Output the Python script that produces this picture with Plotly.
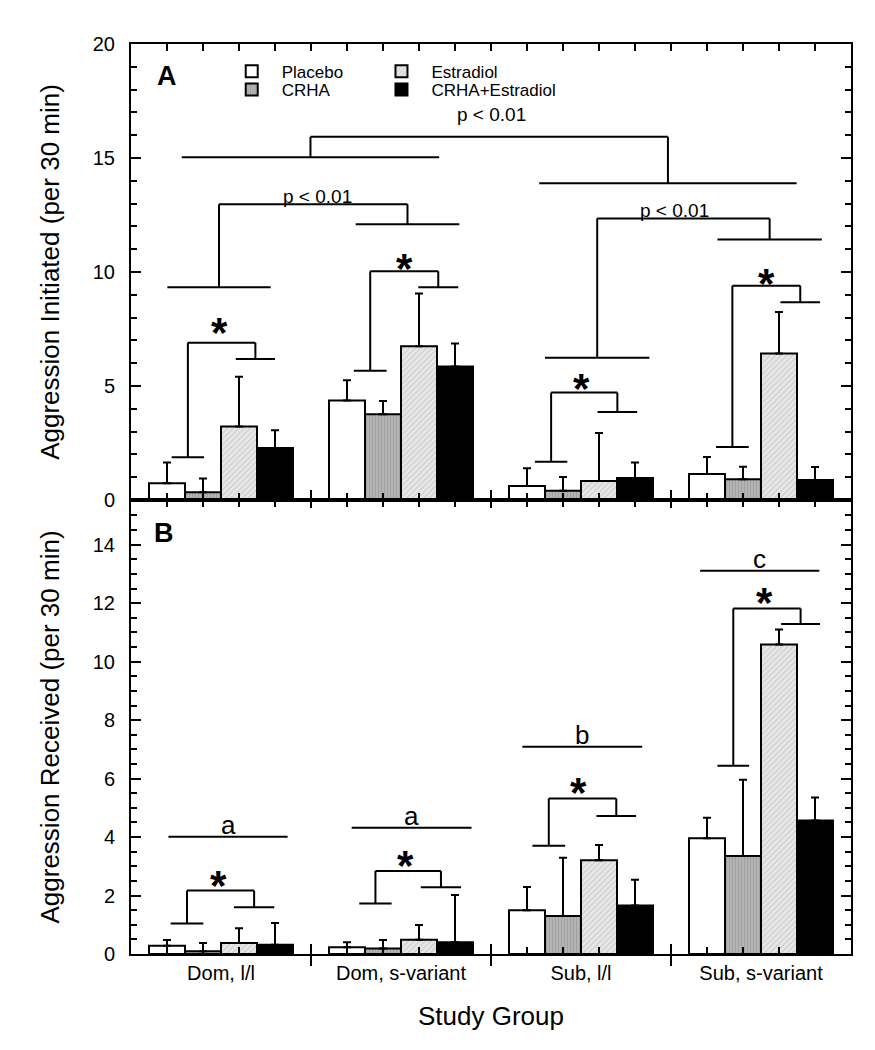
import plotly.graph_objects as go

# ---------------- data ----------------
groups = ["Dom, l/l", "Dom, s-variant", "Sub, l/l", "Sub, s-variant"]
treatments = ["Placebo", "CRHA", "Estradiol", "CRHA+Estradiol"]

# Panel A: Aggression Initiated (mean, SEM upper)
init_placebo = [0.73, 4.36, 0.61, 1.14]
init_crha = [0.34, 3.76, 0.41, 0.91]
init_estradiol = [3.22, 6.74, 0.83, 6.43]
init_combo = [2.28, 5.86, 0.96, 0.88]
init_err_placebo = [0.91, 0.89, 0.78, 0.75]
init_err_crha = [0.60, 0.58, 0.60, 0.55]
init_err_estradiol = [2.19, 2.32, 2.11, 1.82]
init_err_combo = [0.78, 1.00, 0.69, 0.57]

# Panel B: Aggression Received (mean, SEM upper)
recv_placebo = [0.28, 0.23, 1.50, 3.96]
recv_crha = [0.09, 0.19, 1.30, 3.35]
recv_estradiol = [0.38, 0.49, 3.21, 10.59]
recv_combo = [0.32, 0.40, 1.66, 4.57]
recv_err_placebo = [0.20, 0.17, 0.79, 0.70]
recv_err_crha = [0.29, 0.29, 1.99, 2.61]
recv_err_estradiol = [0.50, 0.50, 0.52, 0.51]
recv_err_combo = [0.74, 1.62, 0.88, 0.78]

# significance brackets: (left x0, x1, y), (right x0, x1, y), top y
brackets_A = [
    ((1.13, 2.03, 1.87), (2.91, 4.00, 6.18), 6.90),
    ((6.19, 7.10, 5.67), (7.98, 9.09, 9.33), 10.03),
    ((11.22, 12.12, 1.68), (12.96, 14.06, 3.86), 4.71),
    ((16.25, 17.16, 2.32), (18.04, 19.14, 8.67), 9.40),
    ((1.01, 3.88, 9.33), (6.24, 9.12, 12.09), 12.97),
    ((11.50, 14.40, 6.24), (16.29, 19.19, 11.43), 12.35),
    ((1.41, 8.56, 15.03), (11.34, 18.49, 13.89), 15.93),
]
stars_A = [(2.47, 7.67), (7.59, 10.45), (12.52, 5.19), (17.66, 9.80)]
ptext_A = [(10.0, 16.89), (5.17, 13.29), (15.10, 12.68)]

brackets_B = [
    ((1.10, 2.01, 1.04), (2.86, 3.98, 1.60), 2.17),
    ((6.34, 7.24, 1.73), (8.05, 9.17, 2.28), 2.84),
    ((11.15, 12.06, 3.70), (12.93, 14.03, 4.72), 5.32),
    ((16.29, 17.17, 6.44), (18.06, 19.14, 11.29), 11.82),
]
stars_B = [(2.43, 2.59), (7.63, 3.27), (12.43, 5.78), (17.61, 12.28)]
letters_B = [("a", 1.04, 4.35, 4.01), ("a", 6.13, 9.46, 4.32),
             ("b", 10.87, 14.20, 7.09), ("c", 15.81, 19.12, 13.11)]

# ---------------- style ----------------
FONT = "Liberation Sans, Arial, sans-serif"
XMAX = 20
YMAX_A = 20
YMAX_B = 15.53
styles = [
    dict(color="white", pattern=None),
    dict(color="#b4b4b4", pattern=dict(shape="|", fgcolor="#8c8c8c", bgcolor="#b4b4b4", size=3, solidity=0.35)),
    dict(color="#e4e4e4", pattern=dict(shape="/", fgcolor="#b0b0b0", bgcolor="#e8e8e8", size=4, solidity=0.3)),
    dict(color="black", pattern=None),
]
legend_of = ["legend", "legend2", "legend3", "legend4"]
# legend placement (paper fractions of plot area)
legend_pos = [(0.126, 0.9696), (0.126, 0.9495), (0.334, 0.9696), (0.334, 0.9495)]

fig = go.Figure()

panelA = [(init_placebo, init_err_placebo), (init_crha, init_err_crha),
          (init_estradiol, init_err_estradiol), (init_combo, init_err_combo)]
panelB = [(recv_placebo, recv_err_placebo), (recv_crha, recv_err_crha),
          (recv_estradiol, recv_err_estradiol), (recv_combo, recv_err_combo)]

for panel, xa, ya, show in [(panelA, "x", "y", True), (panelB, "x2", "y2", False)]:
    for j, (vals, errs) in enumerate(panel):
        xs = [5 * i + 2.5 + (j - 1.5) for i in range(len(groups))]
        marker = dict(color=styles[j]["color"], line=dict(color="black", width=2))
        if styles[j]["pattern"]:
            marker["pattern"] = styles[j]["pattern"]
        fig.add_trace(go.Bar(
            x=xs, y=vals, width=1, name=treatments[j], marker=marker,
            xaxis=xa, yaxis=ya, showlegend=show, legend=legend_of[j],
            error_y=dict(type="data", array=errs, arrayminus=[0] * len(errs),
                         symmetric=False, color="black", thickness=2, width=4),
        ))

shapes = []
LW = 2


def line(x0, y0, x1, y1, xr, yr):
    shapes.append(dict(type="line", x0=x0, y0=y0, x1=x1, y1=y1, xref=xr, yref=yr,
                       line=dict(color="black", width=LW)))


def bracket(b, xr, yr):
    (l0, l1, ly), (r0, r1, ry), top = b
    lm = (l0 + l1) / 2
    rm = (r0 + r1) / 2
    line(l0, ly, l1, ly, xr, yr)
    line(r0, ry, r1, ry, xr, yr)
    line(lm, ly, lm, top, xr, yr)
    line(rm, ry, rm, top, xr, yr)
    line(lm, top, rm, top, xr, yr)


for b in brackets_A:
    bracket(b, "x", "y")
for b in brackets_B:
    bracket(b, "x2", "y2")
for (_, x0, x1, y) in letters_B:
    line(x0, y, x1, y, "x2", "y2")

# longer group-separator ticks crossing the axes
for k in (1, 2, 3):
    fx = 5 * k / XMAX
    for yr, y0, y1 in [("y2 domain", -12, 10), ("y domain", -8, 10)]:
        shapes.append(dict(type="line", xref="x2 domain", yref=yr, x0=fx, x1=fx,
                           ysizemode="pixel", yanchor=0, y0=y0, y1=y1,
                           line=dict(color="black", width=LW)))

ann = []
for (x, y) in stars_A:
    ann.append(dict(x=x, y=y, xref="x", yref="y", text="<b>*</b>", showarrow=False,
                    font=dict(size=42, family=FONT, color="black"), yanchor="middle", yshift=-7))
for (x, y) in stars_B:
    ann.append(dict(x=x, y=y, xref="x2", yref="y2", text="<b>*</b>", showarrow=False,
                    font=dict(size=42, family=FONT, color="black"), yanchor="middle", yshift=-7))
for (x, y) in ptext_A:
    ann.append(dict(x=x, y=y, xref="x", yref="y", text="p &lt; 0.01", showarrow=False,
                    font=dict(size=19, family=FONT, color="black"), yanchor="middle"))
for (t, x0, x1, y) in letters_B:
    ann.append(dict(x=(x0 + x1) / 2, y=y, xref="x2", yref="y2", text=t, showarrow=False,
                    font=dict(size=26, family=FONT, color="black"), yanchor="bottom", yshift=-5))
ann.append(dict(x=0.99, y=18.6, xref="x", yref="y", text="<b>A</b>", showarrow=False,
                font=dict(size=27, family=FONT, color="black")))
ann.append(dict(x=0.93, y=14.4, xref="x2", yref="y2", text="<b>B</b>", showarrow=False,
                font=dict(size=27, family=FONT, color="black")))

tickvals = [5 * i + 2.5 for i in range(len(groups))]
xcommon = dict(range=[0, XMAX], showline=True, linecolor="black", linewidth=2, mirror="allticks",
               tickmode="array", tickvals=tickvals, ticks="inside", ticklen=0,
               showgrid=False, zeroline=False, automargin=False,
               minor=dict(tickmode="linear", tick0=0, dtick=1, ticks="inside", ticklen=7,
                          tickwidth=2, tickcolor="black", showgrid=False))
ycommon = dict(showline=True, linecolor="black", linewidth=2, mirror="allticks",
               ticks="inside", ticklen=10, tickwidth=2, tickcolor="black",
               showgrid=False, zeroline=False, ticklabelstandoff=10, automargin=False,
               tickfont=dict(size=20, family=FONT, color="black"))

split = (954 - 500) / 910

legends = {}
for k, name in enumerate(legend_of):
    lx, ly = legend_pos[k]
    legends[name] = dict(x=lx, y=ly, xanchor="left", yanchor="middle", bgcolor="rgba(0,0,0,0)",
                         itemwidth=50, font=dict(size=17, family=FONT, color="black"))

fig.update_layout(
    width=875, height=1050,
    margin=dict(l=131, r=24, t=44, b=96),
    paper_bgcolor="white", plot_bgcolor="white",
    font=dict(family=FONT, color="black"),
    barmode="overlay",
    xaxis=dict(xcommon, anchor="y", showticklabels=False),
    xaxis2=dict(xcommon, anchor="y2", ticktext=groups,
                tickfont=dict(size=20, family=FONT, color="black"),
                title=dict(text="Study Group", font=dict(size=26, family=FONT, color="black"), standoff=24)),
    yaxis=dict(ycommon, domain=[split, 1], range=[0, YMAX_A], anchor="x", dtick=5,
               minor=dict(dtick=1, ticks="inside", ticklen=6, tickwidth=2, tickcolor="black"),
               title=dict(text="Aggression Initiated (per 30 min)",
                          font=dict(size=26, family=FONT, color="black"), standoff=26)),
    yaxis2=dict(ycommon, domain=[0, split], range=[0, YMAX_B], anchor="x2", dtick=2,
                minor=dict(dtick=0.5, ticks="inside", ticklen=6, tickwidth=2, tickcolor="black"),
                title=dict(text="Aggression Received (per 30 min)",
                           font=dict(size=26, family=FONT, color="black"), standoff=26)),
    shapes=shapes,
    annotations=ann,
    **legends,
)

fig.write_html("out.html", config={"displayModeBar": False},
               post_script="document.body.style.margin='0';")
